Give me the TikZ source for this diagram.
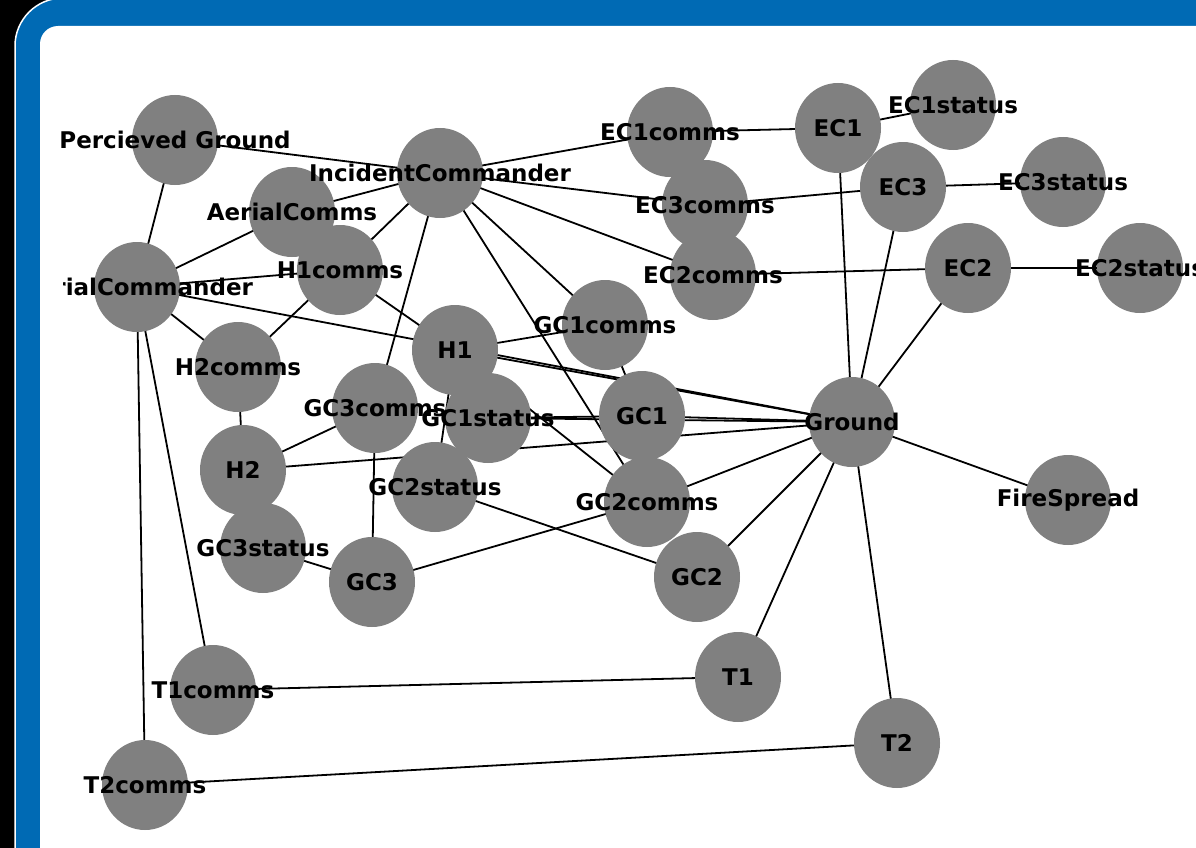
\documentclass[tikz,border=0pt]{standalone}
\usepackage{fontspec}
\setmainfont{DejaVu Sans}
\usetikzlibrary{shapes.geometric}
\definecolor{frameblue}{RGB}{0,106,180}
\definecolor{nodegray}{RGB}{128,128,128}
\pgfdeclarelayer{bg}
\pgfdeclarelayer{edgelayer}
\pgfdeclarelayer{labellayer}
\pgfsetlayers{bg,edgelayer,main,labellayer}
\begin{document}
\begin{tikzpicture}[x=1pt,y=-1pt,
  vtx/.style={ellipse,fill=nodegray,minimum width=86pt,minimum height=90pt,inner sep=0pt},
  lbl/.style={font=\fontsize{23}{23}\selectfont\bfseries,text=black,inner sep=0pt},
  edge/.style={draw=black,line width=1.8pt}]
\useasboundingbox (0,0) rectangle (1196,848);
\begin{pgfonlayer}{bg}
  \begin{scope}
    \clip (0,0) rectangle (1196,848);
    \fill[black] (0,0) rectangle (1196,848);
    \draw[white,line width=1.5pt,fill=frameblue,rounded corners=48pt] (15,-2) rectangle (1300,950);
    \fill[white,rounded corners=18pt] (40,26) rectangle (1300,950);
  \end{scope}
\end{pgfonlayer}
% vertices
\node[vtx] (PG) at (175,140) {};
\node[vtx] (IC) at (440,173) {};
\node[vtx] (AC) at (292,212) {};
\node[vtx] (ACmd) at (137,287) {};
\node[vtx] (H1c) at (340,270) {};
\node[vtx] (H2c) at (238,367) {};
\node[vtx] (H1) at (455,350) {};
\node[vtx] (GC1c) at (605,325) {};
\node[vtx] (GC3c) at (375,408) {};
\node[vtx] (GC1s) at (488,418) {};
\node[vtx] (GC1) at (642,416) {};
\node[vtx] (H2) at (243,470) {};
\node[vtx] (GC2s) at (435,487) {};
\node[vtx] (GC2c) at (647,502) {};
\node[vtx] (GC3s) at (263,548) {};
\node[vtx] (GC3) at (372,582) {};
\node[vtx] (GC2) at (697,577) {};
\node[vtx] (Gnd) at (852,422) {};
\node[vtx] (FS) at (1068,500) {};
\node[vtx] (EC1c) at (670,132) {};
\node[vtx] (EC1) at (838,128) {};
\node[vtx] (EC1s) at (953,105) {};
\node[vtx] (EC3c) at (705,205) {};
\node[vtx] (EC3) at (903,187) {};
\node[vtx] (EC3s) at (1063,182) {};
\node[vtx] (EC2c) at (713,275) {};
\node[vtx] (EC2) at (968,268) {};
\node[vtx] (EC2s) at (1140,268) {};
\node[vtx] (T1c) at (213,690) {};
\node[vtx] (T1) at (738,677) {};
\node[vtx] (T2) at (897,743) {};
\node[vtx] (T2c) at (145,785) {};
% edges
\begin{pgfonlayer}{edgelayer}
\foreach \a/\b in {PG/ACmd, PG/IC, IC/AC, IC/H1c, IC/GC3c, IC/GC1c, IC/GC2c, IC/EC1c, IC/EC3c, IC/EC2c,
  ACmd/AC, ACmd/H1c, ACmd/H2c, ACmd/Gnd, ACmd/T1c, ACmd/T2c,
  H1c/H2c, H1c/H1, H2c/H2, H2/GC3c, H2/Gnd,
  H1/GC1c, H1/Gnd, H1/GC2c, H1/GC2s,
  GC1c/GC1, GC1s/GC1, GC1s/Gnd, GC1/Gnd, GC2s/GC2, GC2c/Gnd, GC2c/GC3, GC2/Gnd, GC3c/GC3, GC3s/GC3,
  EC1c/EC1, EC1/EC1s, EC1/Gnd, EC3c/EC3, EC3/EC3s, EC3/Gnd, EC2c/EC2, EC2/EC2s, EC2/Gnd,
  T1c/T1, T2c/T2, T1/Gnd, T2/Gnd, FS/Gnd}
  \draw[edge] (\a.center) -- (\b.center);
\end{pgfonlayer}
% labels
\begin{pgfonlayer}{labellayer}
\begin{scope}
\clip (63,0) rectangle (1196,848);
\node[lbl] (ACmd-t) at (ACmd.center) {AerialCommander};
\end{scope}
\begin{scope}
\clip (0,0) rectangle (1196,848);
\foreach \n/\t in {PG/Percieved Ground, IC/IncidentCommander, AC/AerialComms,
  H1c/H1comms, H2c/H2comms, H1/H1, H2/H2, GC1c/GC1comms, GC2c/GC2comms, GC3c/GC3comms,
  GC1s/GC1status, GC2s/GC2status, GC3s/GC3status, GC1/GC1, GC2/GC2, GC3/GC3, Gnd/Ground,
  FS/FireSpread, EC1c/EC1comms, EC2c/EC2comms, EC3c/EC3comms, EC1/EC1, EC2/EC2, EC3/EC3,
  EC1s/EC1status, EC2s/EC2status, EC3s/EC3status, T1c/T1comms, T2c/T2comms, T1/T1, T2/T2}
  \node[lbl] (\n-t) at (\n.center) {\t};
\end{scope}
\end{pgfonlayer}
\end{tikzpicture}
\end{document}
